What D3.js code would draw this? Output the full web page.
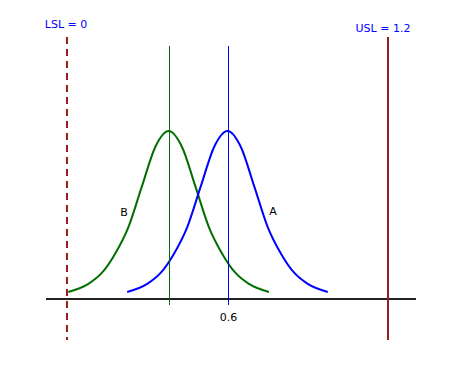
<!DOCTYPE html>
<html>
<head>
<meta charset="utf-8">
<script src="https://cdn.jsdelivr.net/npm/d3@7"></script>
<style>
  body { margin: 0; background: #fff; }
  text { font-family: "DejaVu Sans", Verdana, sans-serif; font-size: 11px; }
</style>
</head>
<body>
<div id="graphic"></div>
<script>
// spec limits and means
const limits = [
  {name: 'LSL', value: 0, dashed: true},
  {name: 'USL', value: 1.2, dashed: false}
];
const means = [
  {name: 'B', value: 0.38, color: '#006f00'},
  {name: 'A', value: 0.6, color: '#0000ff'}
];
const tickLabels = [0.6];

// curve points (relative height)
const curveAx = [0.225, 0.3, 0.35, 0.4, 0.45, 0.5, 0.55, 0.6, 0.65, 0.7, 0.75, 0.8, 0.85, 0.9, 0.975];
const curveAy = [0.042, 0.09, 0.155, 0.27, 0.43, 0.67, 0.905, 1.00, 0.905, 0.67, 0.43, 0.27, 0.155, 0.09, 0.042];
const curveBx = [0.005, 0.08, 0.13, 0.18, 0.23, 0.28, 0.33, 0.38, 0.43, 0.48, 0.53, 0.58, 0.63, 0.68, 0.755];
const curveBy = [0.042, 0.09, 0.155, 0.27, 0.43, 0.67, 0.905, 1.00, 0.905, 0.67, 0.43, 0.27, 0.155, 0.09, 0.042];

(function () {
  "use strict";

  let width = 450, height = 375

  let svg = d3.select('#graphic').append('svg')
    .attr('width', width)
    .attr('height', height)

  let x = d3.scaleLinear().domain([0, 1.2]).range([67, 388])
  let y = d3.scaleLinear().domain([0, 1]).range([299, 131])

  // baseline
  svg.append('line')
    .attr('x1', 46).attr('x2', 416)
    .attr('y1', y(0)).attr('y2', y(0))
    .attr('stroke', '#222')
    .attr('stroke-width', 2)

  // LSL / USL
  limits.forEach(function(lim){
    let lx = Math.round(x(lim.value))
    svg.append('line')
      .attr('x1', lx).attr('x2', lx)
      .attr('y1', 37).attr('y2', 340)
      .attr('stroke', '#9b1c1c')
      .attr('stroke-width', 2)
      .attr('stroke-dasharray', lim.dashed ? '7,5' : null)
    svg.append('text')
      .attr('x', lim.dashed ? lx - 1 : lx - 5)
      .attr('y', lim.dashed ? 28 : 32)
      .attr('text-anchor', 'middle')
      .attr('fill', '#0000ff')
      .text(`${lim.name} = ${lim.value}`)
  })

  // curves
  let line = d3.line()
    .x(function(d){ return x(d[0]) })
    .y(function(d){ return y(d[1]) })
    .curve(d3.curveMonotoneX)

  let curves = [
    {xs: curveBx, ys: curveBy, color: means[0].color},
    {xs: curveAx, ys: curveAy, color: means[1].color}
  ]
  curves.forEach(function(c){
    svg.append('path')
      .datum(c.xs.map(function(v, i){ return [v, c.ys[i]] }))
      .attr('d', line)
      .attr('fill', 'none')
      .attr('stroke', c.color)
      .attr('stroke-width', 2)
  })

  // mean lines
  means.forEach(function(m){
    let mx = Math.round(x(m.value)) + 0.5
    svg.append('line')
      .attr('x1', mx).attr('x2', mx)
      .attr('y1', 46).attr('y2', 305)
      .attr('stroke', m.color)
      .attr('stroke-width', 1)
  })

  // curve labels
  svg.append('text').attr('x', 124).attr('y', 216)
    .attr('text-anchor', 'middle').text('B')
  svg.append('text').attr('x', 273).attr('y', 215)
    .attr('text-anchor', 'middle').text('A')

  // tick label
  tickLabels.forEach(function(t){
    svg.append('text')
      .attr('x', x(t) + 1)
      .attr('y', 321)
      .attr('text-anchor', 'middle')
      .text(t)
  })
}());
</script>
</body>
</html>
